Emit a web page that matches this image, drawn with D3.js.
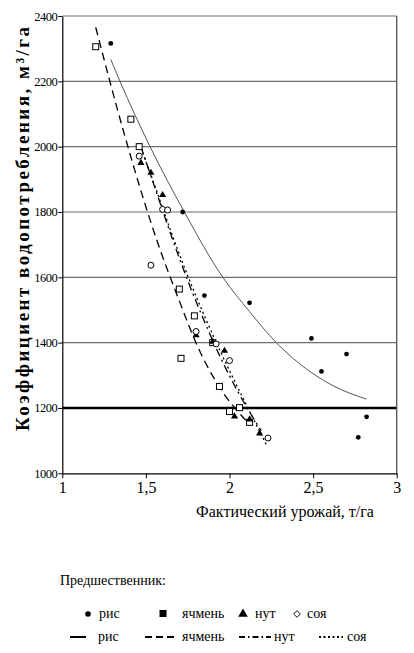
<!DOCTYPE html>
<html>
<head>
<meta charset="utf-8">
<script src="https://cdn.jsdelivr.net/npm/d3@7"></script>
<style>
  html, body { margin: 0; padding: 0; background: #fff; }
</style>
</head>
<body>
<svg id="chart" width="414" height="653"></svg>
<script>
// ---- data ----
const riceX = [1.29, 1.72, 1.85, 2.12, 2.49, 2.55, 2.70, 2.77, 2.82];
const riceY = [2316, 1800, 1544, 1522, 1413, 1312, 1365, 1110, 1173];

const barleyX = [1.20, 1.41, 1.46, 1.70, 1.71, 1.79, 1.90, 1.94, 2.00, 2.06, 2.12];
const barleyY = [2306, 2084, 2000, 1564, 1352, 1482, 1400, 1266, 1189, 1201, 1156];

const chickpeaX = [1.47, 1.53, 1.60, 1.80, 1.90, 1.97, 2.03, 2.12, 2.18];
const chickpeaY = [1950, 1920, 1852, 1423, 1403, 1375, 1174, 1165, 1122];

const soyX = [1.46, 1.53, 1.60, 1.63, 1.80, 1.92, 2.00, 2.23];
const soyY = [1971, 1637, 1808, 1806, 1434, 1396, 1345, 1108];

// trend lines (vertices)
const riceTrendX = [1.29, 1.345, 1.525, 1.73, 1.96, 2.12, 2.28, 2.42, 2.62, 2.82];
const riceTrendY = [2267, 2200, 2000, 1800, 1600, 1495, 1400, 1335, 1268, 1227];

const barleyTrendX = [1.20, 1.37, 1.565, 1.705, 1.805, 1.92, 2.12];
const barleyTrendY = [2365, 2040, 1714, 1521, 1393, 1280, 1150];

const chickpeaTrendX = [1.47, 1.55, 1.65, 1.75, 1.85, 1.95, 2.05, 2.19];
const chickpeaTrendY = [2000, 1880, 1730, 1590, 1465, 1350, 1250, 1130];

const soyTrendX = [1.46, 1.55, 1.65, 1.75, 1.85, 1.95, 2.05, 2.22];
const soyTrendY = [2010, 1885, 1740, 1605, 1482, 1368, 1262, 1088];

const xTicks = [1, 1.5, 2, 2.5, 3];
const xTickLabels = ["1", "1,5", "2", "2,5", "3"];
const yTicks = [1000, 1200, 1400, 1600, 1800, 2000, 2200, 2400];
const yTickLabels = ["1000", "1200", "1400", "1600", "1800", "2000", "2200", "2400"];
const normLevel = 1200;

const yTitle = "Коэффициент водопотребления, м³/га";
const xTitle = "Фактический урожай, т/га";
const legendTitle = "Предшественник:";
const legendLabels = ["рис", "ячмень", "нут", "соя"];

// ---- drawing ----
const FONT = '"Liberation Serif", Tinos, "Times New Roman", serif';
const svg = d3.select("#chart");
const x = d3.scaleLinear().domain([1, 3]).range([62.3, 396.7]);
const y = d3.scaleLinear().domain([1000, 2400]).range([473.3, 16]);

const zip = (a, b) => a.map((v, i) => [v, b[i]]);

// horizontal gridlines
svg.append("g").selectAll("line")
  .data(yTicks.filter(v => v > 1000 && v !== normLevel))
  .join("line")
  .attr("x1", x(1)).attr("x2", x(3))
  .attr("y1", d => y(d)).attr("y2", d => y(d))
  .attr("stroke", "#6e6e6e").attr("stroke-width", 1.2);

// norm line
svg.append("line")
  .attr("x1", x(1)).attr("x2", x(3))
  .attr("y1", y(normLevel)).attr("y2", y(normLevel))
  .attr("stroke", "#000").attr("stroke-width", 2.4);

// right border
svg.append("line")
  .attr("x1", x(3)).attr("x2", x(3))
  .attr("y1", y(2400)).attr("y2", y(1000))
  .attr("stroke", "#444").attr("stroke-width", 1.2);

// axes
const yAxis = d3.axisLeft(y).tickValues(yTicks).tickFormat((d, i) => yTickLabels[i]).tickSize(4).tickSizeOuter(0);
const gy = svg.append("g").attr("transform", `translate(${x(1)},0)`).call(yAxis);
gy.select(".domain").attr("stroke", "#000").attr("stroke-width", 1.2);
gy.selectAll(".tick line").attr("stroke", "#000");
gy.selectAll(".tick text")
  .attr("font-size", 12.5).attr("fill", "#000")
  .attr("letter-spacing", "-0.5").attr("x", -5);

const xAxis = d3.axisBottom(x).tickValues(xTicks).tickFormat((d, i) => xTickLabels[i]).tickSize(5).tickSizeOuter(0);
const gx = svg.append("g").attr("transform", `translate(0,${y(1000)})`).call(xAxis);
gx.select(".domain").attr("stroke", "#000").attr("stroke-width", 1.2);
gx.selectAll(".tick line").attr("stroke", "#000");
gx.selectAll(".tick text")
  .attr("font-size", 16).attr("fill", "#000").attr("y", 8);

// titles
svg.append("text")
  .attr("transform", "translate(29,229) rotate(-90)")
  .attr("text-anchor", "middle")
  .attr("font-size", 19).attr("font-weight", "bold")
  .attr("textLength", 404).attr("lengthAdjust", "spacing")
  .text(yTitle);

svg.append("text")
  .attr("x", 285).attr("y", 517)
  .attr("text-anchor", "middle")
  .attr("font-size", 16)
  .text(xTitle);

// trend lines
const line = d3.line().x(d => x(d[0])).y(d => y(d[1])).curve(d3.curveMonotoneX);
const trends = [
  { pts: zip(riceTrendX, riceTrendY), stroke: "#555", width: 1, dash: null },
  { pts: zip(barleyTrendX, barleyTrendY), stroke: "#000", width: 1.3, dash: "8,5" },
  { pts: zip(chickpeaTrendX, chickpeaTrendY), stroke: "#000", width: 1.3, dash: "8,4,2,4" },
  { pts: zip(soyTrendX, soyTrendY), stroke: "#000", width: 1.3, dash: "2,3" }
];
svg.append("g").selectAll("path").data(trends).join("path")
  .attr("d", d => line(d.pts))
  .attr("fill", "none")
  .attr("stroke", d => d.stroke)
  .attr("stroke-width", d => d.width)
  .attr("stroke-dasharray", d => d.dash);

// markers
const gm = svg.append("g");
gm.selectAll("circle.rice").data(zip(riceX, riceY)).join("circle")
  .attr("class", "rice")
  .attr("cx", d => x(d[0])).attr("cy", d => y(d[1]))
  .attr("r", 2.4).attr("fill", "#000");

gm.selectAll("rect.barley").data(zip(barleyX, barleyY)).join("rect")
  .attr("class", "barley")
  .attr("x", d => x(d[0]) - 3).attr("y", d => y(d[1]) - 3)
  .attr("width", 6).attr("height", 6)
  .attr("fill", "#fff").attr("stroke", "#000").attr("stroke-width", 1);

const tri = d3.symbol().type(d3.symbolTriangle).size(22);
gm.selectAll("path.chickpea").data(zip(chickpeaX, chickpeaY)).join("path")
  .attr("class", "chickpea")
  .attr("transform", d => `translate(${x(d[0])},${y(d[1])})`)
  .attr("d", tri).attr("fill", "#000");

gm.selectAll("circle.soy").data(zip(soyX, soyY)).join("circle")
  .attr("class", "soy")
  .attr("cx", d => x(d[0])).attr("cy", d => y(d[1]))
  .attr("r", 3).attr("fill", "#fff").attr("stroke", "#000").attr("stroke-width", 1);

// legend
svg.append("text").attr("x", 60).attr("y", 585)
  .attr("font-size", 14).text(legendTitle);

const lg = svg.append("g").attr("font-size", 14);
const row1 = 618, row2 = 641;
const markX = [88, 163, 243, 297];
const mTextX = [99, 182, 255, 307];
lg.append("circle").attr("cx", markX[0]).attr("cy", row1 - 4).attr("r", 2.8).attr("fill", "#000");
lg.append("rect").attr("x", markX[1] - 3.5).attr("y", row1 - 8).attr("width", 7).attr("height", 7).attr("fill", "#000");
lg.append("path").attr("transform", `translate(${markX[2]},${row1 - 4})`)
  .attr("d", d3.symbol().type(d3.symbolTriangle).size(40)).attr("fill", "#000");
lg.append("path").attr("transform", `translate(${markX[3]},${row1 - 4}) rotate(45)`)
  .attr("d", d3.symbol().type(d3.symbolSquare).size(22)).attr("fill", "none").attr("stroke", "#000").attr("stroke-width", 0.9);
lg.selectAll("text.r1").data(legendLabels).join("text").attr("class", "r1")
  .attr("x", (d, i) => mTextX[i]).attr("y", row1).text(d => d);

const lineSeg = [[70, 86], [145, 175], [239, 271], [319, 343]];
const lineDash = [null, "7,4", "6,3,1.5,3", "2,2.5"];
const lTextX = [98, 182, 274, 347];
lg.selectAll("line.r2").data(lineSeg).join("line").attr("class", "r2")
  .attr("x1", d => d[0]).attr("x2", d => d[1])
  .attr("y1", row2 - 4).attr("y2", row2 - 4)
  .attr("stroke", "#000").attr("stroke-width", 2)
  .attr("stroke-dasharray", (d, i) => lineDash[i]);
lg.selectAll("text.r2").data(legendLabels).join("text").attr("class", "r2")
  .attr("x", (d, i) => lTextX[i]).attr("y", row2).text(d => d);

// serif font on every text, inline style wins over anything inherited
svg.selectAll("text").style("font-family", FONT);
</script>
</body>
</html>
